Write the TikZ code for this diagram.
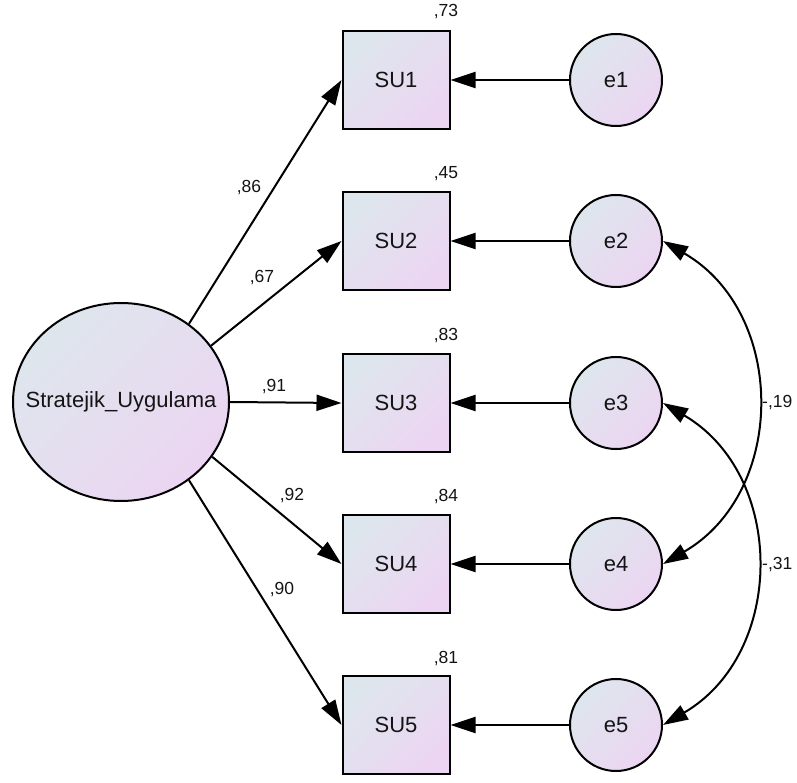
\documentclass[tikz,border=0pt]{standalone}
\usepackage{fontspec}
\setmainfont{Liberation Sans}
\usetikzlibrary{shapes.geometric,arrows.meta}
\definecolor{fillA}{RGB}{222,230,237}
\definecolor{fillB}{RGB}{236,213,242}
\definecolor{ink}{RGB}{20,20,20}
\begin{document}
\begin{tikzpicture}[x=1pt,y=-1pt,
  shadefill/.style={top color=fillA,bottom color=fillB,shading angle=45},
  bigtext/.style={font=\fontsize{22}{26}\selectfont,text=ink},
  obs/.style={draw,line width=2pt,shadefill,minimum width=107pt,minimum height=98pt,inner sep=0pt,bigtext},
  err/.style={draw,circle,line width=2pt,shadefill,minimum size=92pt,inner sep=0pt,bigtext},
  latent/.style={draw,ellipse,line width=2pt,shadefill,minimum width=216pt,minimum height=198pt,inner sep=0pt},
  regpath/.style={line width=2pt,-{Triangle[length=25pt,width=16pt]}},
  covpath/.style={line width=2pt,{Triangle[length=25pt,width=16pt]}-{Triangle[length=25pt,width=16pt]}},
  coef/.style={font=\fontsize{17.5}{21}\selectfont,inner sep=0pt,text=ink}
]
\useasboundingbox (0,0) rectangle (797,783);

% latent factor
\node[latent,label={[bigtext]center:Stratejik\_Uygulama}] (lat) at (121,402) {};

% observed indicators
\node[obs] (su1) at (396,80)  {SU1};
\node[obs] (su2) at (396,241) {SU2};
\node[obs] (su3) at (396,403) {SU3};
\node[obs] (su4) at (396,564) {SU4};
\node[obs] (su5) at (396,725) {SU5};

% error terms
\node[err] (e1) at (616,80)  {e1};
\node[err] (e2) at (616,241) {e2};
\node[err] (e3) at (616,403) {e3};
\node[err] (e4) at (616,564) {e4};
\node[err] (e5) at (616,725) {e5};

% squared multiple correlations
\node[coef] (r1) at (446,12)  {,73};
\node[coef] (r2) at (446,174) {,45};
\node[coef] (r3) at (446,336) {,83};
\node[coef] (r4) at (446,497) {,84};
\node[coef] (r5) at (446,659) {,81};

% factor loadings
\draw[regpath] (lat.49)  -- (su1.west);
\draw[regpath] (lat.32)  -- (su2.west);
\draw[regpath] (lat.0)   -- (su3.west);
\draw[regpath] (lat.-31) -- (su4.west);
\draw[regpath] (lat.-49) -- (su5.west);
\node[coef] (l1) at (249,188) {,86};
\node[coef] (l2) at (262,278) {,67};
\node[coef] (l3) at (274,387) {,91};
\node[coef] (l4) at (292,496) {,92};
\node[coef] (l5) at (282,590) {,90};

% error paths
\draw[regpath] (e1.west) -- (su1.east);
\draw[regpath] (e2.west) -- (su2.east);
\draw[regpath] (e3.west) -- (su3.east);
\draw[regpath] (e4.west) -- (su4.east);
\draw[regpath] (e5.west) -- (su5.east);

% error covariances
\draw[covpath] (e2.east) .. controls +(124,72) and +(124,-72) .. (e4.east);
\draw[covpath] (e3.east) .. controls +(123,72) and +(123,-72) .. (e5.east);
\node[coef,anchor=west] (c1) at (762,403) {-,19};
\node[coef,anchor=west] (c2) at (762,565) {-,31};
\end{tikzpicture}
\end{document}
